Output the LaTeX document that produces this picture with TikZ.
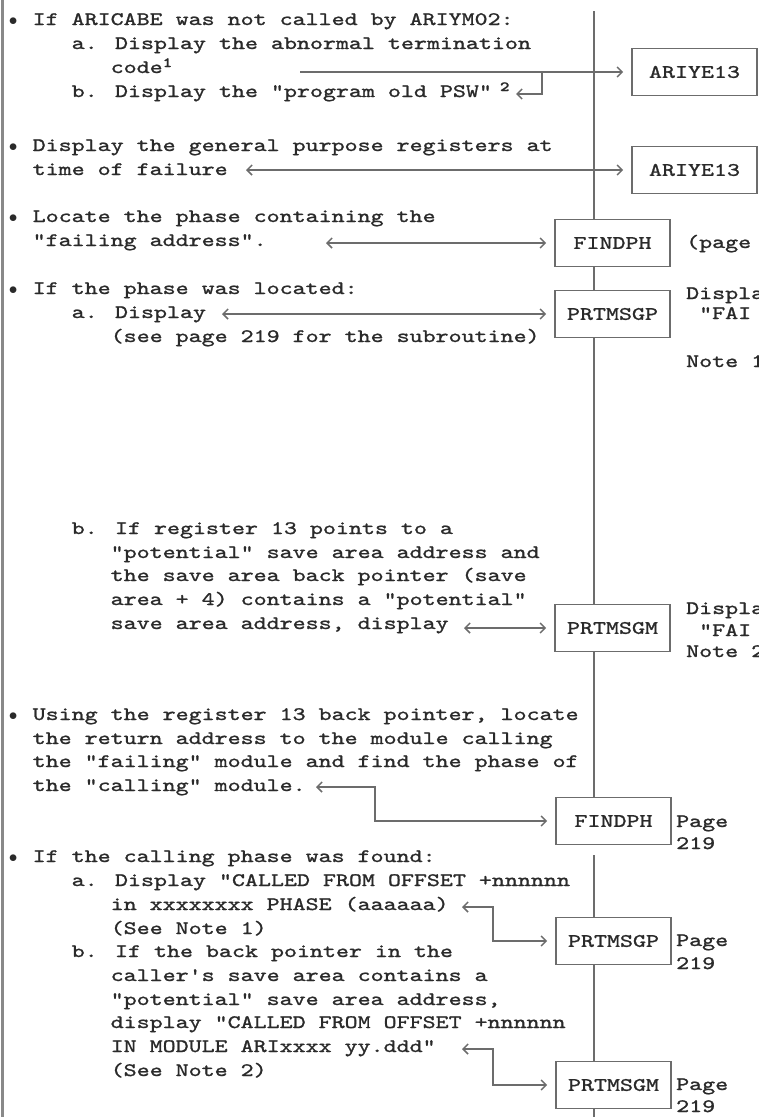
\documentclass[tikz,border=0pt]{standalone}
\usepackage{fontspec}
\newfontfamily\typewriter[Extension=.otf, BoldFont=lmmonolt10-bold, FakeStretch=1.303, FakeBold=1.2]{lmmono10-regular}
\usetikzlibrary{arrows.meta}
\definecolor{ink}{HTML}{2A2A2A}
\definecolor{rule}{HTML}{6C6C6C}
% one text line: name, column, vertical centre, text
\newcommand\txtline[4]{\node[txt] (#1) at ({6.5+13*#2},{#3+5}) {#4};}
\newcommand\supnum[1]{\raisebox{6pt}{\fontsize{14}{14}\selectfont\bfseries #1}}
% list bullet filling one character cell
\newcommand\bul{\makebox[13pt]{$\bullet$}}
\begin{document}
\begin{tikzpicture}[x=1pt,y=-1pt,
  txt/.style={anchor=base west, inner sep=0pt, text=ink,
    font=\typewriter\fontsize{19}{23}\selectfont},
  modbox/.style={draw=rule, line width=1.6pt, fill=white, text=ink,
    minimum width=115pt, minimum height=47pt, inner sep=0pt,
    font=\typewriter\fontsize{19}{23}\selectfont},
  widebox/.style={modbox, minimum width=125pt},
  conn/.style={draw=rule, line width=1.5pt},
  tip/.tip={Straight Barb[length=5pt,width=10pt]},
  oneway/.style={conn, -tip, shorten >=8pt},
  twoway/.style={conn, tip-tip, shorten >=8pt},
  back/.style={conn, -tip},
  spine/.style={draw=rule, line width=2pt}]

\fill[white] (0,0) rectangle (759,1117);
\useasboundingbox (0,0) rectangle (759,1117);

% left margin rule
\coordinate (margintop) at (2.5,0);
\coordinate (marginbot) at (2.5,1117);
\draw[draw=rule!80, line width=3pt] (margintop) -- (marginbot);

% ---- text column ----
\txtline{t1}{0}{20}{\bul{} If ARICABE was not called by ARIYM02:}
\txtline{t2}{5}{44}{a. Display the abnormal termination}
\txtline{t3}{8}{68}{code\supnum{1}}
\txtline{t4}{5}{92}{b. Display the "program old PSW"\hspace{8pt}\supnum{2}}
\txtline{t5}{0}{146}{\bul{} Display the general purpose registers at}
\txtline{t6}{2}{170}{time of failure}
\txtline{t7}{0}{217}{\bul{} Locate the phase containing the}
\txtline{t8}{2}{241}{"failing address".}
\txtline{t9}{0}{289}{\bul{} If the phase was located:}
\txtline{t10}{5}{313}{a. Display}
\txtline{t11}{8}{337}{(see page 219 for the subroutine)}
\txtline{t12}{5}{529}{b. If register 13 points to a}
\txtline{t13}{8}{553}{"potential" save area address and}
\txtline{t14}{8}{576}{the save area back pointer (save}
\txtline{t15}{8}{600}{area + 4) contains a "potential"}
\txtline{t16}{8}{624}{save area address, display}
\txtline{t17}{0}{715}{\bul{} Using the register 13 back pointer, locate}
\txtline{t18}{2}{739}{the return address to the module calling}
\txtline{t19}{2}{762}{the "failing" module and find the phase of}
\txtline{t20}{2}{786}{the "calling" module.}
\txtline{t21}{0}{857}{\bul{} If the calling phase was found:}
\txtline{t22}{5}{881}{a. Display "CALLED FROM OFFSET +nnnnnn}
\txtline{t23}{8}{905}{in xxxxxxxx PHASE (aaaaaa)}
\txtline{t24}{8}{929}{(See Note 1)}
\txtline{t25}{5}{952}{b. If the back pointer in the}
\txtline{t26}{8}{976}{caller's save area contains a}
\txtline{t27}{8}{1000}{"potential" save area address,}
\txtline{t28}{8}{1023}{display "CALLED FROM OFFSET +nnnnnn}
\txtline{t29}{8}{1047}{IN MODULE ARIxxxx yy.ddd"}
\txtline{t30}{8}{1071}{(See Note 2)}

% ---- called routines ----
\node[widebox] (ariye1) at (694.5,72) {ARIYE13};
\node[widebox] (ariye2) at (694.5,170) {ARIYE13};
\node[modbox] (findph1) at (612.5,243) {FINDPH};
\node[modbox] (prtp1) at (612.5,314) {PRTMSGP};
\node[modbox] (prtm1) at (612.5,628) {PRTMSGM};
\node[modbox] (findph2) at (613.5,821) {FINDPH};
\node[modbox] (prtp2) at (613.5,941) {PRTMSGP};
\node[modbox] (prtm2) at (613.5,1085) {PRTMSGM};

% ---- remarks beside the routines ----
\node[txt] (r1) at (686,248) {(page};
\node[txt] (r2) at (686,299) {Displa};
\node[txt] (r3) at (699,319) {"FAI};
\node[txt] (r4) at (686,367) {Note 1};
\node[txt] (r5) at (686,614) {Displa};
\node[txt] (r6) at (699,636) {"FAI};
\node[txt] (r7) at (686,657) {Note 2};
\node[txt] (p1a) at (676,827) {Page};
\node[txt] (p1b) at (676,849) {219};
\node[txt] (p2a) at (676,946) {Page};
\node[txt] (p2b) at (676,969) {219};
\node[txt] (p3a) at (676,1090) {Page};
\node[txt] (p3b) at (676,1112) {219};

% ---- main flow line ----
\coordinate (spinetop) at (594,11);
\coordinate (spinegap) at (594,855);
\coordinate (spinebot) at (594,1117);
\draw[spine] (spinetop) -- (spinetop |- findph1.north);
\draw[spine] (spinetop |- findph1.south) -- (spinetop |- prtp1.north);
\draw[spine] (spinetop |- prtp1.south) -- (spinetop |- prtm1.north);
\draw[spine] (spinetop |- prtm1.south) -- (spinetop |- findph2.north);
\draw[spine] (spinegap) -- (spinegap |- prtp2.north);
\draw[spine] (spinegap |- prtp2.south) -- (spinegap |- prtm2.north);
\draw[spine] (spinegap |- prtm2.south) -- (spinebot);

% ---- connectors ----
\coordinate (a1s) at (300,72);
\coordinate (hook1) at (542,72);
\coordinate (hook1e) at (516,94);
\draw[oneway] (a1s) -- (ariye1.west);
\draw[back] (hook1) |- (hook1e);

\coordinate (a2s) at (246,170);
\draw[twoway] (a2s) -- (ariye2.west);
\coordinate (a3s) at (326,243);
\draw[twoway] (a3s) -- (findph1.west);
\coordinate (a4s) at (222,314);
\draw[twoway] (a4s) -- (prtp1.west);
\coordinate (a5s) at (464,628);
\draw[twoway] (a5s) -- (prtm1.west);

\coordinate (a6s) at (316,787);
\coordinate (a6c) at (375,787);
\draw[twoway] (a6s) -- (a6c) |- (findph2.west);
\coordinate (a7s) at (462,907);
\coordinate (a7c) at (493,907);
\draw[twoway] (a7s) -- (a7c) |- (prtp2.west);
\coordinate (a8s) at (462,1049);
\coordinate (a8c) at (493,1049);
\draw[twoway] (a8s) -- (a8c) |- (prtm2.west);
\end{tikzpicture}
\end{document}
